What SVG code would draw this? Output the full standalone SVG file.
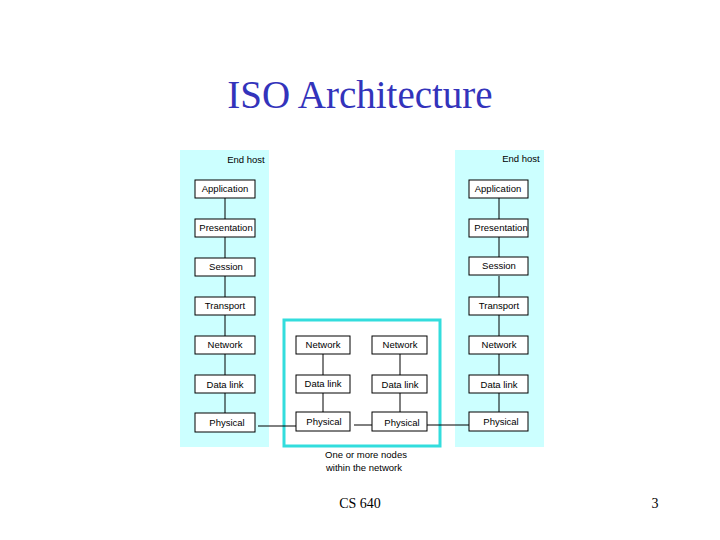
<svg xmlns="http://www.w3.org/2000/svg" width="720" height="540" viewBox="0 0 720 540">
<style>
.b{fill:#fff;stroke:#000;stroke-width:1}
.t{font-family:"Liberation Sans",Arial,sans-serif;font-size:9.5px;fill:#000;text-anchor:middle}
.c{stroke:#000;stroke-width:1;fill:none}
</style>
<rect width="720" height="540" fill="#fff"/>
<text x="360" y="108" font-family="Liberation Serif,serif" font-size="39" fill="#3333bb" text-anchor="middle">ISO Architecture</text>
<rect x="180" y="150" width="89" height="297" fill="#ccffff"/>
<rect x="455" y="150" width="89" height="297" fill="#ccffff"/>
<rect x="284" y="320" width="156" height="126" fill="none" stroke="#33dddd" stroke-width="3"/>
<text class="t" x="246" y="163">End host</text>
<text class="t" x="521" y="162">End host</text>
<g id="connectors">
<path class="c" d="M225 198V219M225 237V258M225 276V297M225 315V336M225 354V375M225 393V413"/>
<path class="c" d="M499 198V219M499 237V258M499 276V297M499 315V336M499 354V375M499 393V413"/>
<path class="c" d="M323 354V375M323 393V412M400 354V375M400 393V412"/>
<path class="c" d="M258 426H300M354 425H375M427 425H470"/>
</g>
<g id="left">
<rect class="b" x="195" y="180" width="60" height="18"/><text class="t" x="225" y="192">Application</text>
<rect class="b" x="195" y="219" width="60" height="18"/><text class="t" x="226" y="231">Presentation</text>
<rect class="b" x="195" y="258" width="60" height="18"/><text class="t" x="226" y="270">Session</text>
<rect class="b" x="195" y="297" width="60" height="18"/><text class="t" x="225" y="309">Transport</text>
<rect class="b" x="195" y="336" width="60" height="18"/><text class="t" x="225" y="348">Network</text>
<rect class="b" x="195" y="375" width="60" height="18"/><text class="t" x="225" y="388">Data link</text>
<rect class="b" x="195" y="413" width="60" height="19"/><text class="t" x="227" y="426">Physical</text>
</g>
<g id="mid1">
<rect class="b" x="296" y="336" width="54" height="18"/><text class="t" x="323" y="348">Network</text>
<rect class="b" x="296" y="375" width="54" height="18"/><text class="t" x="323" y="387">Data link</text>
<rect class="b" x="296" y="412" width="54" height="19"/><text class="t" x="324" y="425">Physical</text>
</g>
<g id="mid2">
<rect class="b" x="372" y="336" width="55" height="18"/><text class="t" x="400" y="348">Network</text>
<rect class="b" x="372" y="375" width="55" height="18"/><text class="t" x="400" y="388">Data link</text>
<rect class="b" x="372" y="412" width="55" height="19"/><text class="t" x="402" y="426">Physical</text>
</g>
<g id="right">
<rect class="b" x="469" y="180" width="59" height="18"/><text class="t" x="498" y="192">Application</text>
<rect class="b" x="469" y="219" width="59" height="18"/><text class="t" x="501" y="231">Presentation</text>
<rect class="b" x="469" y="257" width="59" height="18"/><text class="t" x="499" y="269">Session</text>
<rect class="b" x="469" y="297" width="59" height="18"/><text class="t" x="499" y="309">Transport</text>
<rect class="b" x="469" y="336" width="59" height="18"/><text class="t" x="499" y="348">Network</text>
<rect class="b" x="469" y="375" width="59" height="18"/><text class="t" x="499" y="388">Data link</text>
<rect class="b" x="469" y="412" width="59" height="19"/><text class="t" x="501" y="425">Physical</text>
</g>
<text class="t" x="366" y="458">One or more nodes</text>
<text class="t" x="364" y="471">within the network</text>
<text x="360" y="508" font-family="Liberation Serif,serif" font-size="14" text-anchor="middle">CS 640</text>
<text x="655" y="508" font-family="Liberation Serif,serif" font-size="14" text-anchor="middle">3</text>
</svg>
